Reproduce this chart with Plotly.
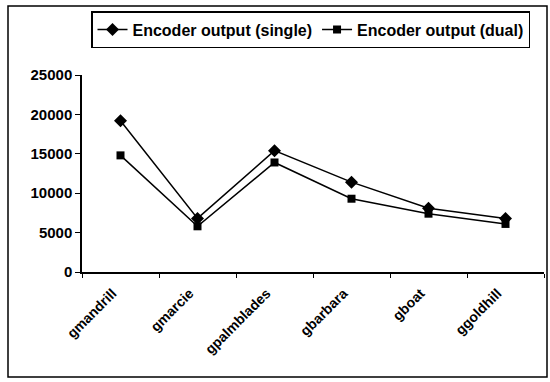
import plotly.graph_objects as go

categories = ["gmandrill", "gmarcie", "gpalmblades", "gbarbara", "gboat", "ggoldhill"]
single = [19200, 6800, 15400, 11400, 8100, 6800]
dual = [14800, 5800, 13900, 9300, 7400, 6100]
y_ticks = [0, 5000, 10000, 15000, 20000, 25000]

fig = go.Figure()
fig.add_trace(go.Scatter(x=categories, y=single, mode="lines+markers", name="Encoder output (single)",
                         line=dict(color="black", width=1.5),
                         marker=dict(symbol="diamond", size=10, color="black")))
fig.add_trace(go.Scatter(x=categories, y=dual, mode="lines+markers", name="Encoder output (dual)",
                         line=dict(color="black", width=1.5),
                         marker=dict(symbol="square", size=8, color="black")))

L, R, T, B = 82, 6, 75, 110
W, H = 550, 382
pw, ph = W - L - R, H - T - B
def px(x):
    return (x - L) / pw
def py(y):
    return (H - B - y) / ph

fig.update_layout(
    width=W, height=H,
    margin=dict(l=L, r=R, t=T, b=B),
    paper_bgcolor="white", plot_bgcolor="white",
    font=dict(family="Liberation Sans, Arial", size=13, color="black", weight="bold"),
    showlegend=True,
    legend=dict(orientation="h", x=px(91), y=py(11), xanchor="left", yanchor="top",
                bordercolor="black", borderwidth=1.5, font=dict(size=16, weight="bold"),
                itemwidth=30, tracegroupgap=0),
    xaxis=dict(type="category", range=[-0.5, 5.5], showline=True, linecolor="black", linewidth=1.5,
               ticks="outside", ticklen=4, tickcolor="black", tickangle=-45, showgrid=False,
               tickson="boundaries", zeroline=False, ticklabelstandoff=6, ticklabelshift=-8,
               tickfont=dict(size=14, weight="bold")),
    yaxis=dict(range=[0, 25000], tickvals=y_ticks, tickformat="d", showline=True, linecolor="black",
               linewidth=1.5, ticks="outside", ticklen=5, tickcolor="black", showgrid=False,
               zeroline=False, tickfont=dict(size=15, weight="bold")),
    shapes=[dict(type="rect", xref="paper", yref="paper",
                 x0=px(8), x1=px(547), y0=py(377), y1=py(6),
                 line=dict(color="black", width=1.5))],
)

fig.write_html("out.html", config={"displayModeBar": False},
               post_script="document.body.style.margin='0';")
